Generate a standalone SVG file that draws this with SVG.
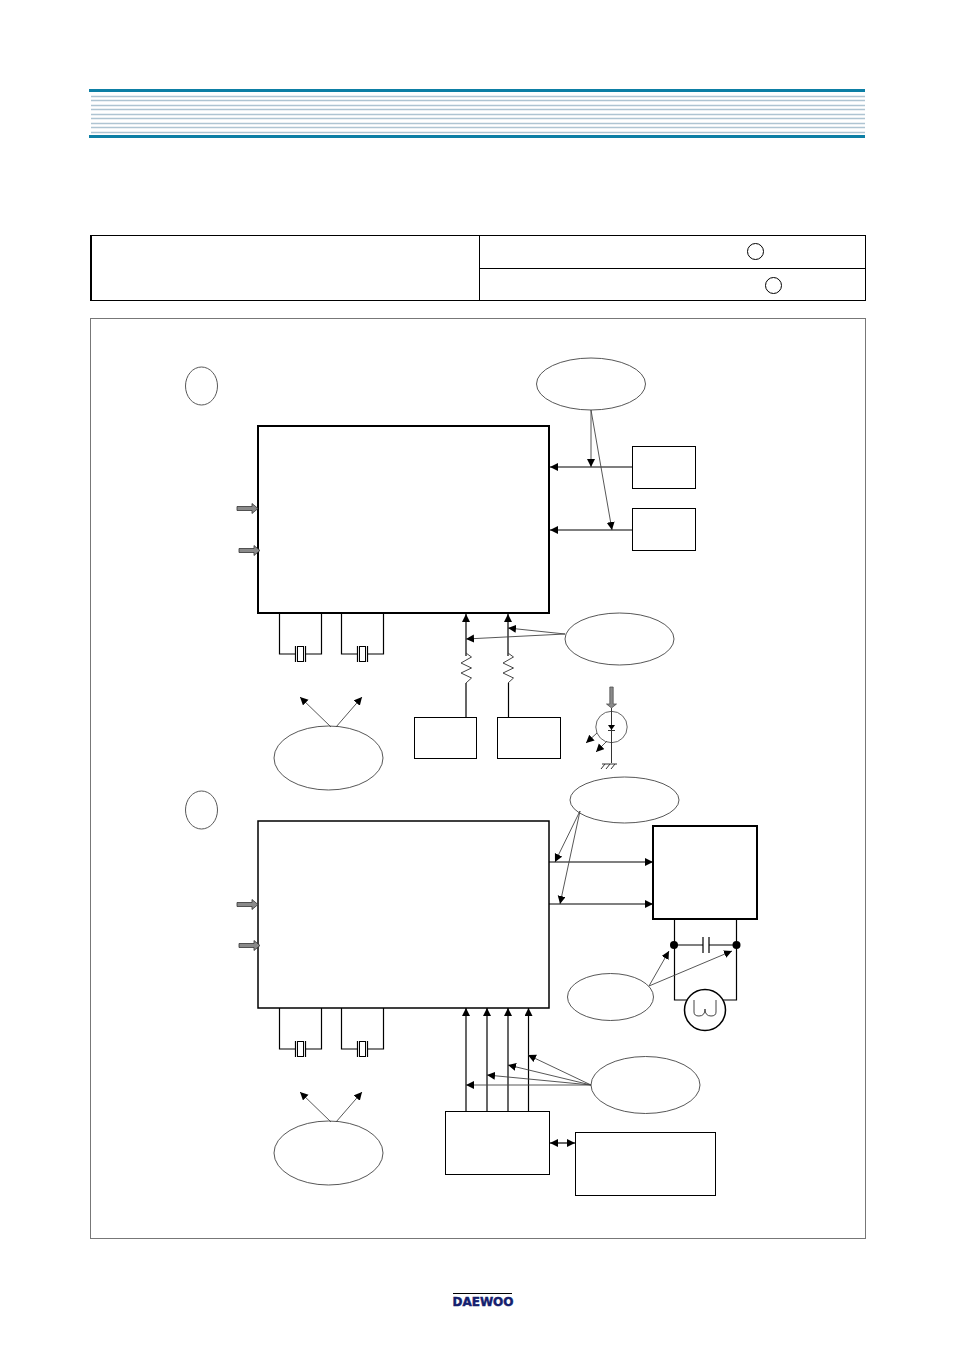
<svg xmlns="http://www.w3.org/2000/svg" width="954" height="1351" viewBox="0 0 954 1351">
<style>
.w{fill:none;stroke:#000;stroke-width:1.200}
.t{fill:none;stroke:#000;stroke-width:1}
.n{fill:#fff;stroke:#000;stroke-width:1}
.b{fill:#fff;stroke:#000;stroke-width:2}
.e{fill:#fff;stroke:#444;stroke-width:.9}
.a{fill:none;stroke:#444;stroke-width:.9;marker-end:url(#h)}
.k{fill:none;stroke:#000;stroke-width:1.200;marker-end:url(#h)}
.h{stroke:#aec4d2;stroke-width:1.300}
.g{fill:#8a8a8a;stroke:#333;stroke-width:.8}
</style>
<defs>
<marker id="h" markerWidth="9" markerHeight="9" refX="8" refY="4" orient="auto" markerUnits="userSpaceOnUse"><path d="M0 0L8 4L0 8z" fill="#000"/></marker>
<marker id="hs" markerWidth="9" markerHeight="9" refX="0" refY="4" orient="auto" markerUnits="userSpaceOnUse"><path d="M8 0L0 4L8 8z" fill="#000"/></marker>
<g id="xtal"><path class="w" d="M0 0V41H16M26 41H42V0"/><path class="w" d="M16 33V49M26 33V49"/><rect x="18" y="33.500" width="6" height="15" fill="#fff" stroke="#000"/></g>
<path id="ga" class="g" d="M0-2H15V-5L21 0L15 5V2H0z"/>
</defs>
<g id="header">
<rect x="89" y="89" width="776" height="3" fill="#0d7fa5"/>
<rect x="89" y="135" width="776" height="3" fill="#0d7fa5"/>
<path class="h" d="M91 96.500H865M91 100.500H865M91 105.500H865M91 109.500H865M91 114.500H865M91 118.500H865M91 123.500H865M91 127.500H865M91 132.500H865"/>
</g>
<g id="title-table">
<rect class="n" x="90.500" y="235.500" width="775" height="65"/>
<path d="M91 235V301" stroke="#000" stroke-width="2"/>
<path class="t" d="M479.500 236V300M480 268.500H865"/>
<circle class="n" cx="755.500" cy="251.500" r="8"/>
<circle class="n" cx="773.500" cy="285.500" r="8"/>
</g>
<rect id="frame" x="90.500" y="318.500" width="775" height="920" fill="#fff" stroke="#777" stroke-width="1"/>
<g id="marker-a"><ellipse class="e" cx="201.500" cy="386" rx="16" ry="19"/></g>
<g id="marker-b"><ellipse class="e" cx="201.500" cy="810" rx="16" ry="19"/></g>
<g id="ic-top"><rect class="b" x="258" y="426" width="291" height="187"/></g>
<g id="ic-bottom"><rect class="b" x="258" y="821" width="291" height="187" style="stroke-width:1.500"/></g>
<g id="box-a1"><rect class="n" x="632.500" y="446.500" width="63" height="42"/></g>
<g id="box-a2"><rect class="n" x="632.500" y="508.500" width="63" height="42"/></g>
<g id="box-l1"><rect class="n" x="414.500" y="717.500" width="62" height="41"/></g>
<g id="box-l2"><rect class="n" x="497.500" y="717.500" width="63" height="41"/></g>
<g id="box-t"><rect class="b" x="653" y="826" width="104" height="93"/></g>
<g id="box-m"><rect class="n" x="445.500" y="1111.500" width="104" height="63"/></g>
<g id="box-r"><rect class="n" x="575.500" y="1132.500" width="140" height="63"/></g>
<g id="ell-1"><ellipse class="e" cx="591" cy="384" rx="54.500" ry="26"/></g>
<g id="ell-2"><ellipse class="e" cx="619.500" cy="639" rx="54.500" ry="26"/></g>
<g id="ell-3"><ellipse class="e" cx="328.500" cy="758" rx="54.500" ry="32"/></g>
<g id="ell-4"><ellipse class="e" cx="624.500" cy="800" rx="54.500" ry="23"/></g>
<g id="ell-5"><ellipse class="e" cx="610.500" cy="997" rx="43" ry="23.500"/></g>
<g id="ell-6"><ellipse class="e" cx="645.500" cy="1085" rx="54.500" ry="28.500"/></g>
<g id="ell-7"><ellipse class="e" cx="328.500" cy="1153" rx="54.500" ry="32"/></g>
<g id="connectors">
<use href="#ga" x="237" y="508.500"/><use href="#ga" x="239" y="550.500"/>
<use href="#ga" x="237" y="904.500"/><use href="#ga" x="239" y="945.500"/>
<use href="#xtal" x="279.500" y="613"/><use href="#xtal" x="341.500" y="613"/>
<use href="#xtal" x="279.500" y="1008"/><use href="#xtal" x="341.500" y="1008"/>
<path class="k" d="M632 467H550"/><path class="k" d="M632 530H550"/>
<path class="a" d="M591 410L591 467"/><path class="a" d="M591 410L612 530"/>
<path class="k" d="M466 656V614"/><path class="k" d="M508 656V614"/>
<path class="w" d="M466 683V717M508.500 683V717"/>
<path fill="none" stroke="#444" d="M466 653L471.500 657L461 663L471.500 668L461 673L471.500 678L466 683M508 653L513.500 657L503 663L513.500 668L503 673L513.500 678L508 683"/>
<path class="a" d="M565 634L508 628"/><path class="a" d="M565 634L466 639"/>
<path class="a" d="M331 727L300 697"/><path class="a" d="M336 727L362 697"/>
<path d="M609.800 687H613.200V704L616.500 704L611.500 708L606.500 704H609.800z" fill="#8a8a8a" stroke="#444" stroke-width=".7"/>
<circle cx="611.500" cy="727" r="15.700" fill="none" stroke="#555" stroke-width=".9"/>
<path fill="none" stroke="#333" d="M611.500 708V763M608 730.500H615M602 764H617M605 764L601 769M610 764L606 769M615 764L611 769"/>
<path d="M608 725H615L611.500 730z" fill="#000"/>
<path class="a" d="M597 733L586 743"/><path class="a" d="M607 741L596 752"/>
<path class="k" d="M549 862H653"/><path class="k" d="M549 904H653"/>
<path class="a" d="M580 811L555 862"/><path class="a" d="M580 811L560 904"/>
<path class="w" d="M674.500 919V1000H694M736.500 919V1000H716M674 945H703M709 945H736M703 937V953M709 937V953"/>
<circle cx="674" cy="945" r="4" fill="#000"/><circle cx="736.500" cy="945" r="4" fill="#000"/>
<circle cx="705" cy="1010" r="20.500" fill="#fff" stroke="#000" stroke-width="1.500"/>
<path fill="none" stroke="#444" d="M694 1000V1012Q694 1016 699 1016Q705 1016 705 1009Q705 1016 711 1016Q716 1016 716 1012V1000"/>
<path class="a" d="M649 986L669 951"/><path class="a" d="M649 986L732 951"/>
<path class="k" d="M466 1111V1008"/><path class="k" d="M487 1111V1008"/><path class="k" d="M508 1111V1008"/><path class="k" d="M528.500 1111V1008"/>
<path class="a" d="M591 1085L528 1055"/><path class="a" d="M591 1085L508 1065"/><path class="a" d="M591 1085L487 1075"/><path class="a" d="M591 1085H466"/>
<path class="a" d="M331 1122L300 1092"/><path class="a" d="M336 1122L362 1092"/>
<path fill="none" stroke="#000" stroke-width="1.200" marker-end="url(#h)" marker-start="url(#hs)" d="M550 1143H575"/>
</g>
<g id="logo">
<path d="M453 1293.500H512" stroke="#000" stroke-width="1"/>
<text x="452.500" y="1306" font-family="DejaVu Sans, sans-serif" font-weight="bold" font-size="12.500" fill="#14206e" stroke="#14206e" stroke-width=".5" textLength="61" lengthAdjust="spacingAndGlyphs">DAEWOO</text>
</g>
</svg>
